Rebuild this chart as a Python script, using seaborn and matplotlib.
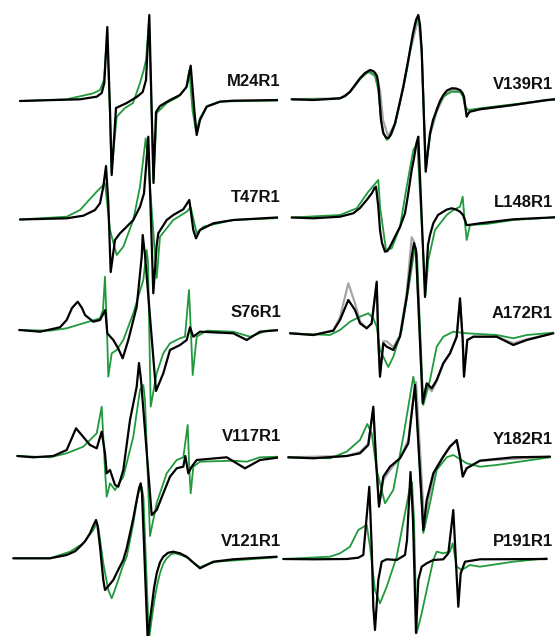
import matplotlib
matplotlib.use("Agg")
import matplotlib.pyplot as plt
import seaborn as sns
import pandas as pd

# ---------------- data (field in a.u., signal = derivative amplitude, a.u.) -------------
sites_left = ["M24R1", "T47R1", "S76R1", "V117R1", "V121R1"]
sites_right = ["V139R1", "L148R1", "A172R1", "Y182R1", "P191R1"]

# M24R1
M24_black_field = [20, 80, 96.7, 101.7, 104.3, 107.3, 110, 111.7, 116, 126.7, 136.7, 142.7, 146, 149.3, 153.5, 156, 160, 170, 180, 186.7, 190.7, 194.3, 196.7, 200, 206.7, 220, 233, 280]
M24_black_amp = [0, 1.7, 4.3, 8, 18, 74, -9, -74, -7, -2, 4, 9, 21, 86, -82, -11, -5, 1, 6, 14.3, 35.3, -9, -34, -19, -5.7, -0.7, 0.3, 1]
M24_green_field = [20, 66.7, 93.3, 100, 104, 107, 110, 111.5, 116.7, 125, 133, 140, 143.3, 146, 149, 153.5, 156.7, 166.7, 178, 186, 189.3, 192.5, 196, 200, 207, 220, 280]
M24_green_amp = [0, 1.7, 7.7, 11, 21, 66, -14, -71, -15.7, -7, -2, 18, 29.3, 41, 81, -79, -12, -2, 4, 13, 31, -9, -30.7, -17, -5, -0.5, 0.5]

# T47R1
T47_black_field = [20, 66.7, 83.3, 95, 100, 103.3, 106, 108.3, 110.7, 115, 120, 126.7, 133.3, 140, 144, 148.3, 153.3, 156.7, 158.3, 166.7, 173.3, 183.3, 189.3, 193.3, 196, 200, 213.3, 233.3, 280]
T47_black_amp = [0, 1.2, 3.8, 9.5, 16.2, 32.8, 53.5, 16.5, -52.5, -20.5, -13.8, -7.2, -0.5, 12.8, 26.2, 82.8, -73.8, -25.5, -13.8, -0.5, 4.5, 10.2, 19.5, -10.5, -18.8, -10.5, -3.8, -0.5, 2.2]
T47_green_field = [20, 66.7, 80, 96.7, 105, 110, 116.7, 123.3, 133.3, 140, 145.7, 148, 156.7, 160, 173.3, 186.7, 190.7, 196.7, 203.3, 233, 280]
T47_green_amp = [0, 2.8, 9.5, 27.8, 36.2, -10.5, -35.5, -27.2, -0.5, 32.8, 81.2, 60, -58.5, -17.2, -0.5, 7.8, 12.2, -13.8, -7.2, -0.5, 1.5]

# S76R1
S76_black_field = [19.3, 40, 60, 66.7, 72, 77.7, 82, 85, 93.3, 100, 105.3, 107.3, 113.3, 118, 122.7, 128.3, 136.7, 141.7, 142.7, 145, 156, 163.3, 170, 180, 186.7, 190, 193.3, 200, 233.3, 246.7, 260, 280]
S76_black_amp = [0, -1.7, 2.7, 10, 22, 28.3, 22, 15, 8.3, 10, 20, -3.3, -10, -18, -28.3, -10, 23.3, 73.3, 95, 75, -61, -43.3, -20, -15, -10, 2.7, -6.7, -1.7, -3.3, -10, -1.7, 0]
S76_green_field = [19.3, 50, 66.7, 83.3, 100, 103, 105, 107.3, 108.3, 111.7, 116.7, 123.3, 133.3, 143.3, 146.7, 148, 150.7, 156.7, 163.3, 170, 180, 185, 189, 191.7, 192.7, 196.7, 206.7, 233.3, 250, 266.7, 280]
S76_green_amp = [0, -0.7, 1.7, 6.7, 11.7, 20, 53.3, -10, -46.7, -23.3, -20, -10, 16.7, 50, 80, 68, -76.7, -43.3, -23.3, -13.3, -8.3, -6.7, 40, -20, -45, -6.7, -0.7, -1.7, -6.7, -0.7, 0]

# V117R1
V117_black_field = [17.3, 33.3, 53.3, 66.7, 76, 81.7, 90, 96.7, 101.7, 105, 106.7, 110, 115, 118.3, 123.3, 130, 136.7, 139, 141, 151.7, 156.7, 163.3, 170, 176.7, 183.3, 185.3, 188.3, 191.7, 196.7, 226.7, 245, 260, 280]
V117_black_amp = [0, -1.3, 0, 6, 27.7, 21, 11, 7.7, 24.3, 2.7, -17.3, -14, -29, -30.7, -14, 36, 69.3, 93, 76, -59, -54, -37.3, -20.7, -12.3, -10.7, 0, -17.3, -10.7, -4, -1.3, -12.3, -4, -1.3]
V117_green_field = [17.3, 50, 66.7, 83.3, 96.7, 101.7, 105, 106.7, 110, 115, 123.3, 133.3, 140, 143.3, 145, 150, 156.7, 166.7, 176.7, 183.3, 187.7, 189.3, 190.7, 193.3, 200, 233.3, 246.7, 260, 280]
V117_green_amp = [0, -1.3, 2.7, 9.3, 22.7, 49.3, -14, -40.7, -27.3, -34, -20.7, 19.3, 66, 71, 56, -80, -47, -17.3, -4, -1.3, 31, -14, -37.3, -10.7, -5.7, -4.7, -5.7, -1.3, -0.7]

# V121R1
V121_black_field = [13.3, 50, 66.7, 75, 80, 85, 90, 93, 96, 97.5, 100, 103.3, 105, 109, 113.3, 118, 123.3, 126.7, 130, 133.3, 136.7, 139, 140.7, 142, 147.7, 149.5, 151.7, 154, 156.7, 160, 163.3, 168, 173.3, 180, 186.7, 193, 200, 206, 213.3, 233.3, 276.7]
V121_black_amp = [0, 0, 3.3, 7, 11.6, 17, 25, 32, 38.3, 33, 11.6, -21.7, -31.7, -27, -21.7, -12, -1.7, 10, 25, 40, 58.3, 70, 75, 65, -82, -65, -48.4, -30, -15, -4, 1.6, 5.5, 6.6, 5, 1.6, -4, -10, -7, -3.4, -1, 1.6]
V121_green_field = [13.3, 50, 70, 83.3, 93.3, 96.7, 98.5, 103.3, 108.3, 111.7, 114, 118.3, 122, 126.7, 130, 133.3, 136, 138.3, 141.7, 143.5, 149, 151.5, 155, 157.5, 160, 163, 166.7, 171, 175, 182, 188.3, 194, 200, 207, 216.7, 276.7]
V121_green_amp = [0, 0, 6.6, 15, 28.3, 35, 30, -5, -31.7, -40, -34, -21.7, -10, 1.6, 18, 35, 52, 65, 71.6, 60, -82, -62, -38.4, -25, -15, -6, 0, 4, 5, 3, 0, -5, -9, -6, -3.4, 1]

# V139R1
V139_black_field = [16.7, 38.3, 55, 65, 70, 75, 80, 85, 90, 95, 98, 100, 102, 103.3, 104.5, 106, 108.3, 111, 113.3, 116, 120, 124, 128.3, 132, 135, 138, 141, 143.3, 145, 146.7, 150.7, 152.5, 155, 158, 161.7, 165, 168.3, 172, 176.7, 181, 185, 187.5, 189, 190.5, 191.7, 193, 195, 205, 238.3, 271.7, 280]
V139_black_amp = [0, -0.7, 0.3, 1, 3.3, 7.6, 14.3, 21, 26.3, 29.3, 28.3, 26.6, 23.3, 16, -0.7, -20.7, -34, -38.2, -39, -34.7, -24, -6.7, 12.6, 32.3, 49.3, 66.3, 79.3, 84.3, 74.3, 49.3, -72.4, -55.7, -34, -20.7, -10.7, -1.7, 4.3, 8.8, 11, 10.8, 9.3, 6.3, 2.6, -8.7, -17.4, -14.7, -12.4, -10, -5.7, -0.7, 0]
V139_green_field = [16.7, 55, 65, 70, 75, 80, 85, 90, 94.3, 98, 100, 103.3, 104.5, 106, 108.3, 111.7, 116, 120, 124, 128.3, 132, 135, 138, 141, 143.3, 145, 146.7, 151, 153, 156, 162, 169, 176.7, 185, 188, 190, 193.3, 205, 238.3, 280]
V139_green_amp = [0, 0.3, 1, 3, 7.3, 13.5, 20.3, 25, 27.6, 25.6, 23.3, 9.3, -3, -20.7, -33, -40.7, -36, -25.7, -8, 11.3, 30, 47.3, 64, 77, 82.6, 72, 47.3, -68.7, -50, -30.7, -8.7, 3.3, 7.6, 7.3, 3, -7.4, -10.7, -9, -5, 0]
V139_gray_field = [16.7, 65, 75, 85, 93, 100, 105, 108, 113, 120, 128, 135, 143.3, 146.7, 150.7, 155, 161.7, 168.3, 176.7, 185, 189, 191.7, 195, 205, 238, 280]
V139_gray_amp = [0, 1, 7.3, 20.3, 27.3, 23.3, 9.3, -20.7, -36.7, -24.7, 11.3, 47.3, 81.3, 47.3, -68.7, -35.7, -12.7, 2.3, 9.3, 8.3, 1.3, -15.7, -11.7, -9.7, -5.7, 0]

# L148R1
L148_black_field = [16.7, 38.3, 65, 78.3, 85, 91.7, 97, 99.5, 101, 103.3, 105, 107, 110, 112.5, 115, 121.7, 125, 130, 133, 136.7, 139, 141.5, 143.3, 146, 150, 153, 155, 158.3, 163, 168.3, 172, 176.7, 181, 185, 188, 190, 191.5, 193.3, 205, 238.3, 280]
L148_black_amp = [0, -0.8, 0.8, 4.2, 9.5, 17.5, 24.5, 29.5, 30.8, 10.8, -12.5, -25.5, -34.2, -33.5, -29.2, -15.8, -9.5, 4.2, 22.5, 47.5, 59.5, 74.5, 80.8, 17, -79.5, -27.5, -17.5, -5.8, 2.5, 5.8, 8, 9.2, 8, 5.8, 2.5, -2.5, -7.5, -7.5, -5.8, -1.8, 0.2]
L148_green_field = [16.7, 65, 81.7, 93.3, 103.3, 105, 111, 116.7, 125, 131.7, 138.3, 142.3, 150.5, 153.3, 160, 171.7, 178.3, 185, 187.7, 189.3, 191.7, 195, 211.7, 238.3, 280]
L148_green_amp = [0, 2.5, 9.2, 25.8, 37.5, 10.8, -32.5, -30.8, -9.2, 30.8, 67.5, 74.2, -77.5, -42.5, -12.5, 2.5, 7.5, 10.8, 20.8, 0.8, -22.5, -7.5, -6.5, -2.5, 0.2]

# A172R1
A172_black_field = [15, 38.3, 58.3, 65, 73.3, 80, 85, 91.7, 96.7, 101.7, 103.3, 105, 108.3, 111.7, 118.3, 125, 131.7, 136.7, 139, 141, 147.7, 151.7, 156.7, 161.7, 168.3, 175, 181.7, 185, 187.7, 189, 192.3, 198.3, 221.7, 238.3, 251.7, 278.3]
A172_black_amp = [0, -1.7, 2.6, 13.3, 33.3, 23.3, 10, 5, 10, 51.6, -6.7, -43.4, -10, -13.4, -16.7, -3.4, 36.6, 76.6, 90.3, 83.3, -70, -50, -55, -46.7, -30, -20, -3.4, 35, -6.7, -43.4, -6.7, -3.4, -3.4, -11.7, -6.7, 0]
A172_green_field = [15, 55, 65, 75, 85, 93.3, 98.3, 101.7, 105, 113.3, 118.3, 126.7, 133.3, 140, 142, 148.3, 155, 161.7, 168.3, 178.3, 191.7, 221.7, 238.3, 251.7, 278.3]
A172_green_amp = [0, -1.7, 3.3, 11.6, 16.6, 20, 15, 6.6, -16.7, -33.7, -23.4, 3.3, 43.3, 86.6, 78.3, -71.7, -46.7, -13.4, -3.4, 1.6, 0, -1.7, -5, -1.7, 0.6]
A172_gray_field = [15, 38.3, 58.3, 65, 73.3, 80, 85, 91.7, 96.7, 101.7, 103.3, 105, 108.3, 111.7, 118.3, 125, 131.7, 136.7, 139, 141, 147.7, 151.7, 156.7, 161.7, 168.3, 175, 181.7, 185, 187.7, 189, 192.3, 198.3, 221.7, 238.3, 251.7, 278.3]
A172_gray_amp = [0, -1.7, 3, 16, 50, 30, 12, 5, 10, 50, -6.7, -40, -8, -8, -14, -2, 40, 96, 92, 82, -68, -52, -58, -48, -30, -20, -3.4, 33, -6.7, -42, -6.7, -3.4, -3.4, -10, -6, 0]

# Y182R1
Y182_black_field = [13.3, 38.3, 71.7, 85, 93.3, 98.3, 101, 104, 108.3, 115, 125, 133.3, 136.7, 140, 148.3, 151.7, 158.3, 168.3, 175, 181.7, 185, 187.7, 191.7, 205, 238.3, 275]
Y182_black_amp = [0, -1, 1.3, 4, 12.3, 50.6, -2.7, -49.4, -19.4, -9.4, -1, 14, 44, 72.3, -72.7, -42.7, -16, 0.6, 10.6, 17.3, 0.6, -19.4, -11, -3.4, 0, 0.6]
Y182_green_field = [13.3, 55, 71.7, 85, 92.3, 96.7, 101.7, 110, 118.3, 128.3, 138.3, 140.5, 148.3, 155, 161.7, 171.7, 178.3, 191.7, 205, 221.7, 275]
Y182_green_amp = [0, -1, 5.6, 17.3, 33.3, 24, -12.7, -46, -32.7, 20.6, 80.6, 67.3, -75.7, -46, -12.7, 0, 2.3, -6, -9.4, -7.7, 0]
Y182_gray_field = [13.3, 71.7, 85, 93, 98.3, 101, 104, 108.3, 115, 125, 133.3, 137.5, 141, 149.5, 153.3, 160, 168.3, 175, 181.7, 185, 187.7, 191.7, 205, 275]
Y182_gray_amp = [0, 1.3, 5.3, 13.3, 47.3, -2.7, -47.7, -22.7, -12.7, -0.7, 17.3, 52.3, 75.3, -70.7, -42.7, -12.7, 1.3, 11.3, 16.3, 0.3, -17.7, -10.7, -3.4, 0.6]

# P191R1
P191_black_field = [8.3, 38.3, 71.7, 83.3, 88.3, 94.3, 96.7, 98.3, 100, 103.3, 106.7, 111.7, 121.7, 130, 132, 135.5, 138, 141, 143.3, 146.7, 151.7, 158.3, 168.3, 173.3, 178.3, 181, 183.3, 185.7, 190, 205, 271.7]
P191_black_amp = [0, -0.3, 0, 1.3, 4, 72.3, 12.3, -47.7, -71, -21, -2.7, -0.3, -1, 4, 19, 87, 39, -74, -21, -7.7, -4.3, -1, -0.3, 5.7, 49, -4.3, -47.7, -14.3, -2.7, -0.3, 0]
P191_green_field = [8.3, 55, 65, 75, 83.3, 91.7, 95, 100, 105, 111.7, 121.7, 130, 135, 137, 139, 141.7, 146.7, 151.7, 158.3, 161.7, 168.3, 175, 177.7, 181.7, 186.7, 195, 205, 238.3, 271.7]
P191_green_amp = [0, 2.3, 5.7, 12.3, 29, 34, 12.3, -31, -44.3, -27.7, 2.3, 45.7, 72.3, 77, 39, -74, -54.3, -31, -1, 7.3, 5.7, 7.3, 15.7, -7.7, -11, -6, -7.7, -2.7, 0.7]

# ---------------- layout ----------------
baselines_left = [101, 219.5, 330, 456, 558.3]
baselines_right = [99.3, 217.5, 333.3, 457.3, 559]
label_y_left = [82, 198, 312.5, 436.7, 541]
label_y_right = [84.7, 202.5, 314, 439, 541]

BLACK = "#000000"
GREEN = "#1f9a3c"
GRAY = "#a6a6a6"

traces = {
    "M24R1": [("black", M24_black_field, M24_black_amp), ("green", M24_green_field, M24_green_amp)],
    "T47R1": [("black", T47_black_field, T47_black_amp), ("green", T47_green_field, T47_green_amp)],
    "S76R1": [("black", S76_black_field, S76_black_amp), ("green", S76_green_field, S76_green_amp)],
    "V117R1": [("black", V117_black_field, V117_black_amp), ("green", V117_green_field, V117_green_amp)],
    "V121R1": [("black", V121_black_field, V121_black_amp), ("green", V121_green_field, V121_green_amp)],
    "V139R1": [("gray", V139_gray_field, V139_gray_amp), ("black", V139_black_field, V139_black_amp), ("green", V139_green_field, V139_green_amp)],
    "L148R1": [("black", L148_black_field, L148_black_amp), ("green", L148_green_field, L148_green_amp)],
    "A172R1": [("gray", A172_gray_field, A172_gray_amp), ("black", A172_black_field, A172_black_amp), ("green", A172_green_field, A172_green_amp)],
    "Y182R1": [("gray", Y182_gray_field, Y182_gray_amp), ("black", Y182_black_field, Y182_black_amp), ("green", Y182_green_field, Y182_green_amp)],
    "P191R1": [("black", P191_black_field, P191_black_amp), ("green", P191_green_field, P191_green_amp)],
}

style = {"gray": (GRAY, 1.6, 1), "green": (GREEN, 1.3, 2), "black": (BLACK, 1.6, 3)}

sns.set_theme(style="white")
plt.rcParams["font.family"] = ["Liberation Sans", "DejaVu Sans"]

fig = plt.figure(figsize=(5.55, 6.36), dpi=100)
ax_l = fig.add_axes([0, 0, 0.5, 1])
ax_r = fig.add_axes([0.5, 0, 0.5, 1])

def draw(ax, sites, baselines, label_ys, label_x):
    for site, base, ly in zip(sites, baselines, label_ys):
        for kind, f, a in traces[site]:
            color, lw, z = style[kind]
            df = pd.DataFrame({"field": f, "signal": [v - base for v in a]})
            line = sns.lineplot(data=df, x="field", y="signal", ax=ax, color=color,
                                linewidth=lw, estimator=None, sort=False, zorder=z)
        ax.text(label_x, -ly, site, ha="right", va="center", fontsize=12,
                fontweight="bold", color="#111111", zorder=5)
    for ln in ax.get_lines():
        ln.set_solid_joinstyle("round")
        ln.set_solid_capstyle("round")

draw(ax_l, sites_left, baselines_left, label_y_left, 281)
draw(ax_r, sites_right, baselines_right, label_y_right, 278)

ax_l.set_xlim(0, 277.5)
ax_r.set_xlim(2.5, 280)
for ax in (ax_l, ax_r):
    ax.set_ylim(-636, 0)
    ax.axis("off")
    ax.patch.set_alpha(0)

fig.savefig("out.png", dpi=100, facecolor="white")
